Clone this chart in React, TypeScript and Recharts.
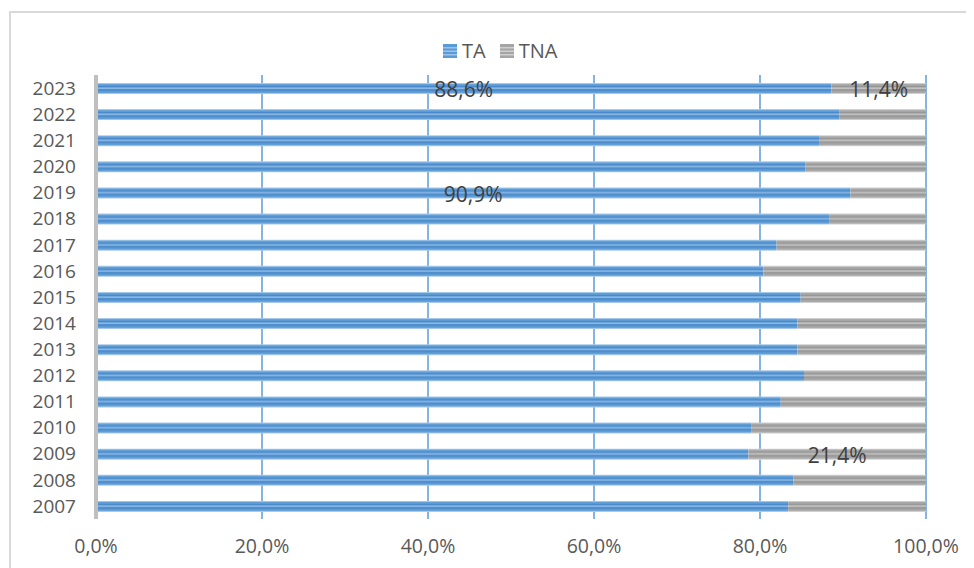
import { BarChart, Bar, XAxis, YAxis, CartesianGrid, LabelList } from 'recharts';

const YEARS = [
  '2007', '2008', '2009', '2010', '2011', '2012', '2013', '2014', '2015',
  '2016', '2017', '2018', '2019', '2020', '2021', '2022', '2023',
];
const TA = [83.4, 84.0, 78.6, 79.0, 82.5, 85.3, 84.5, 84.5, 84.9, 80.4, 82.0, 88.4, 90.9, 85.5, 87.2, 89.6, 88.6];
const TNA = [16.6, 16.0, 21.4, 21.0, 17.5, 14.7, 15.5, 15.5, 15.1, 19.6, 18.0, 11.6, 9.1, 14.5, 12.8, 10.4, 11.4];
// only these bars carry a data label in the original
const TA_LABELED = ['2019', '2023'];
const TNA_LABELED = ['2009', '2023'];
const X_TICKS = [0, 20, 40, 60, 80, 100];

const FONT = '"Open Sans", sans-serif';

const data = YEARS.map((year, i) => ({
  year,
  ta: TA[i],
  tna: TNA[i],
  taLabel: TA_LABELED.includes(year) ? TA[i] : null,
  tnaLabel: TNA_LABELED.includes(year) ? TNA[i] : null,
}));

const fmt = (v: number) => `${v.toFixed(1).replace('.', ',')}%`;

function renderLabel(props: any) {
  const { x, y, width, height, value } = props;
  if (value == null) return null;
  return (
    <text
      x={x + width / 2}
      y={y + height / 2 + 3}
      textAnchor="middle"
      dominantBaseline="middle"
      fontFamily={FONT}
      fontSize={21}
      fill="#404040"
    >
      {fmt(value)}
    </text>
  );
}

function StripeSwatch({ pattern }: { pattern: string }) {
  return (
    <svg width={14} height={14} style={{ verticalAlign: 'middle', marginRight: 5 }}>
      <rect width={14} height={14} fill={`url(#${pattern})`} />
    </svg>
  );
}

export default function App() {
  return (
    <div style={{ position: 'relative', width: 966, height: 560, overflow: 'hidden', fontFamily: FONT }}>
      <style>{'html, body { overflow: hidden; }'}</style>
      <div
        style={{
          position: 'absolute',
          left: 1,
          top: 3,
          width: 1000,
          height: 600,
          border: '2px solid #d9d9d9',
          boxSizing: 'border-box',
        }}
      />
      <div
        style={{
          position: 'absolute',
          top: 29,
          left: 435,
          fontSize: 20,
          color: '#595959',
          whiteSpace: 'nowrap',
          display: 'flex',
          alignItems: 'center',
        }}
      >
        <StripeSwatch pattern="legendBlue" />
        <span style={{ marginRight: 14 }}>TA</span>
        <StripeSwatch pattern="legendGrey" />
        <span>TNA</span>
      </div>
      <BarChart
        width={966}
        height={560}
        data={data}
        layout="vertical"
        margin={{ top: 67, right: 48, bottom: 19, left: 28 }}
        style={{ position: 'absolute', left: 0, top: 0 }}
      >
        <defs>
          <pattern id="stripeBlue" patternUnits="objectBoundingBox" patternContentUnits="objectBoundingBox" width={1} height={1}>
            <rect x={0} y={0} width={1} height={1} fill="#5b9bd5" />
            <rect x={0} y={0} width={1} height={0.1} fill="#a9c9ea" />
            <rect x={0} y={0.3} width={1} height={0.1} fill="#3f7fc4" />
            <rect x={0} y={0.4} width={1} height={0.18} fill="#8ab8e6" />
            <rect x={0} y={0.58} width={1} height={0.1} fill="#3f7fc4" />
            <rect x={0} y={0.9} width={1} height={0.1} fill="#a9c9ea" />
          </pattern>
          <pattern id="stripeGrey" patternUnits="objectBoundingBox" patternContentUnits="objectBoundingBox" width={1} height={1}>
            <rect x={0} y={0} width={1} height={1} fill="#a5a5a5" />
            <rect x={0} y={0} width={1} height={0.1} fill="#d0d0d0" />
            <rect x={0} y={0.3} width={1} height={0.1} fill="#8f8f8f" />
            <rect x={0} y={0.4} width={1} height={0.18} fill="#c2c2c2" />
            <rect x={0} y={0.58} width={1} height={0.1} fill="#8f8f8f" />
            <rect x={0} y={0.9} width={1} height={0.1} fill="#d0d0d0" />
          </pattern>
        </defs>
        <CartesianGrid horizontal={false} stroke="#5b9bd5" strokeWidth={1.5} />
        <XAxis
          type="number"
          domain={[0, 100]}
          ticks={X_TICKS}
          tickFormatter={fmt}
          axisLine={false}
          tickLine={false}
          tickSize={0}
          tickMargin={20}
          height={30}
          interval={0}
          tick={{ fill: '#595959', fontSize: 19.5, fontFamily: FONT }}
        />
        <YAxis
          type="category"
          dataKey="year"
          reversed
          width={60}
          axisLine={{ stroke: '#bfbfbf', strokeWidth: 4 }}
          tickLine={false}
          tickSize={0}
          tickMargin={20}
          interval={0}
          tick={{ fill: '#595959', fontSize: 19, fontFamily: FONT }}
        />
        <Bar dataKey="ta" stackId="a" fill="url(#stripeBlue)" barSize={11} isAnimationActive={false}>
          <LabelList dataKey="taLabel" content={renderLabel} />
        </Bar>
        <Bar dataKey="tna" stackId="a" fill="url(#stripeGrey)" barSize={11} isAnimationActive={false}>
          <LabelList dataKey="tnaLabel" content={renderLabel} />
        </Bar>
      </BarChart>
      <svg width={0} height={0} style={{ position: 'absolute' }}>
        <defs>
          <pattern id="legendBlue" patternUnits="userSpaceOnUse" width={14} height={14}>
            <rect width={14} height={14} fill="#5b9bd5" />
            <rect y={3} width={14} height={1.5} fill="#9cc2ea" />
            <rect y={6.5} width={14} height={1.5} fill="#9cc2ea" />
            <rect y={10} width={14} height={1.5} fill="#9cc2ea" />
          </pattern>
          <pattern id="legendGrey" patternUnits="userSpaceOnUse" width={14} height={14}>
            <rect width={14} height={14} fill="#a5a5a5" />
            <rect y={3} width={14} height={1.5} fill="#cfcfcf" />
            <rect y={6.5} width={14} height={1.5} fill="#cfcfcf" />
            <rect y={10} width={14} height={1.5} fill="#cfcfcf" />
          </pattern>
        </defs>
      </svg>
    </div>
  );
}
